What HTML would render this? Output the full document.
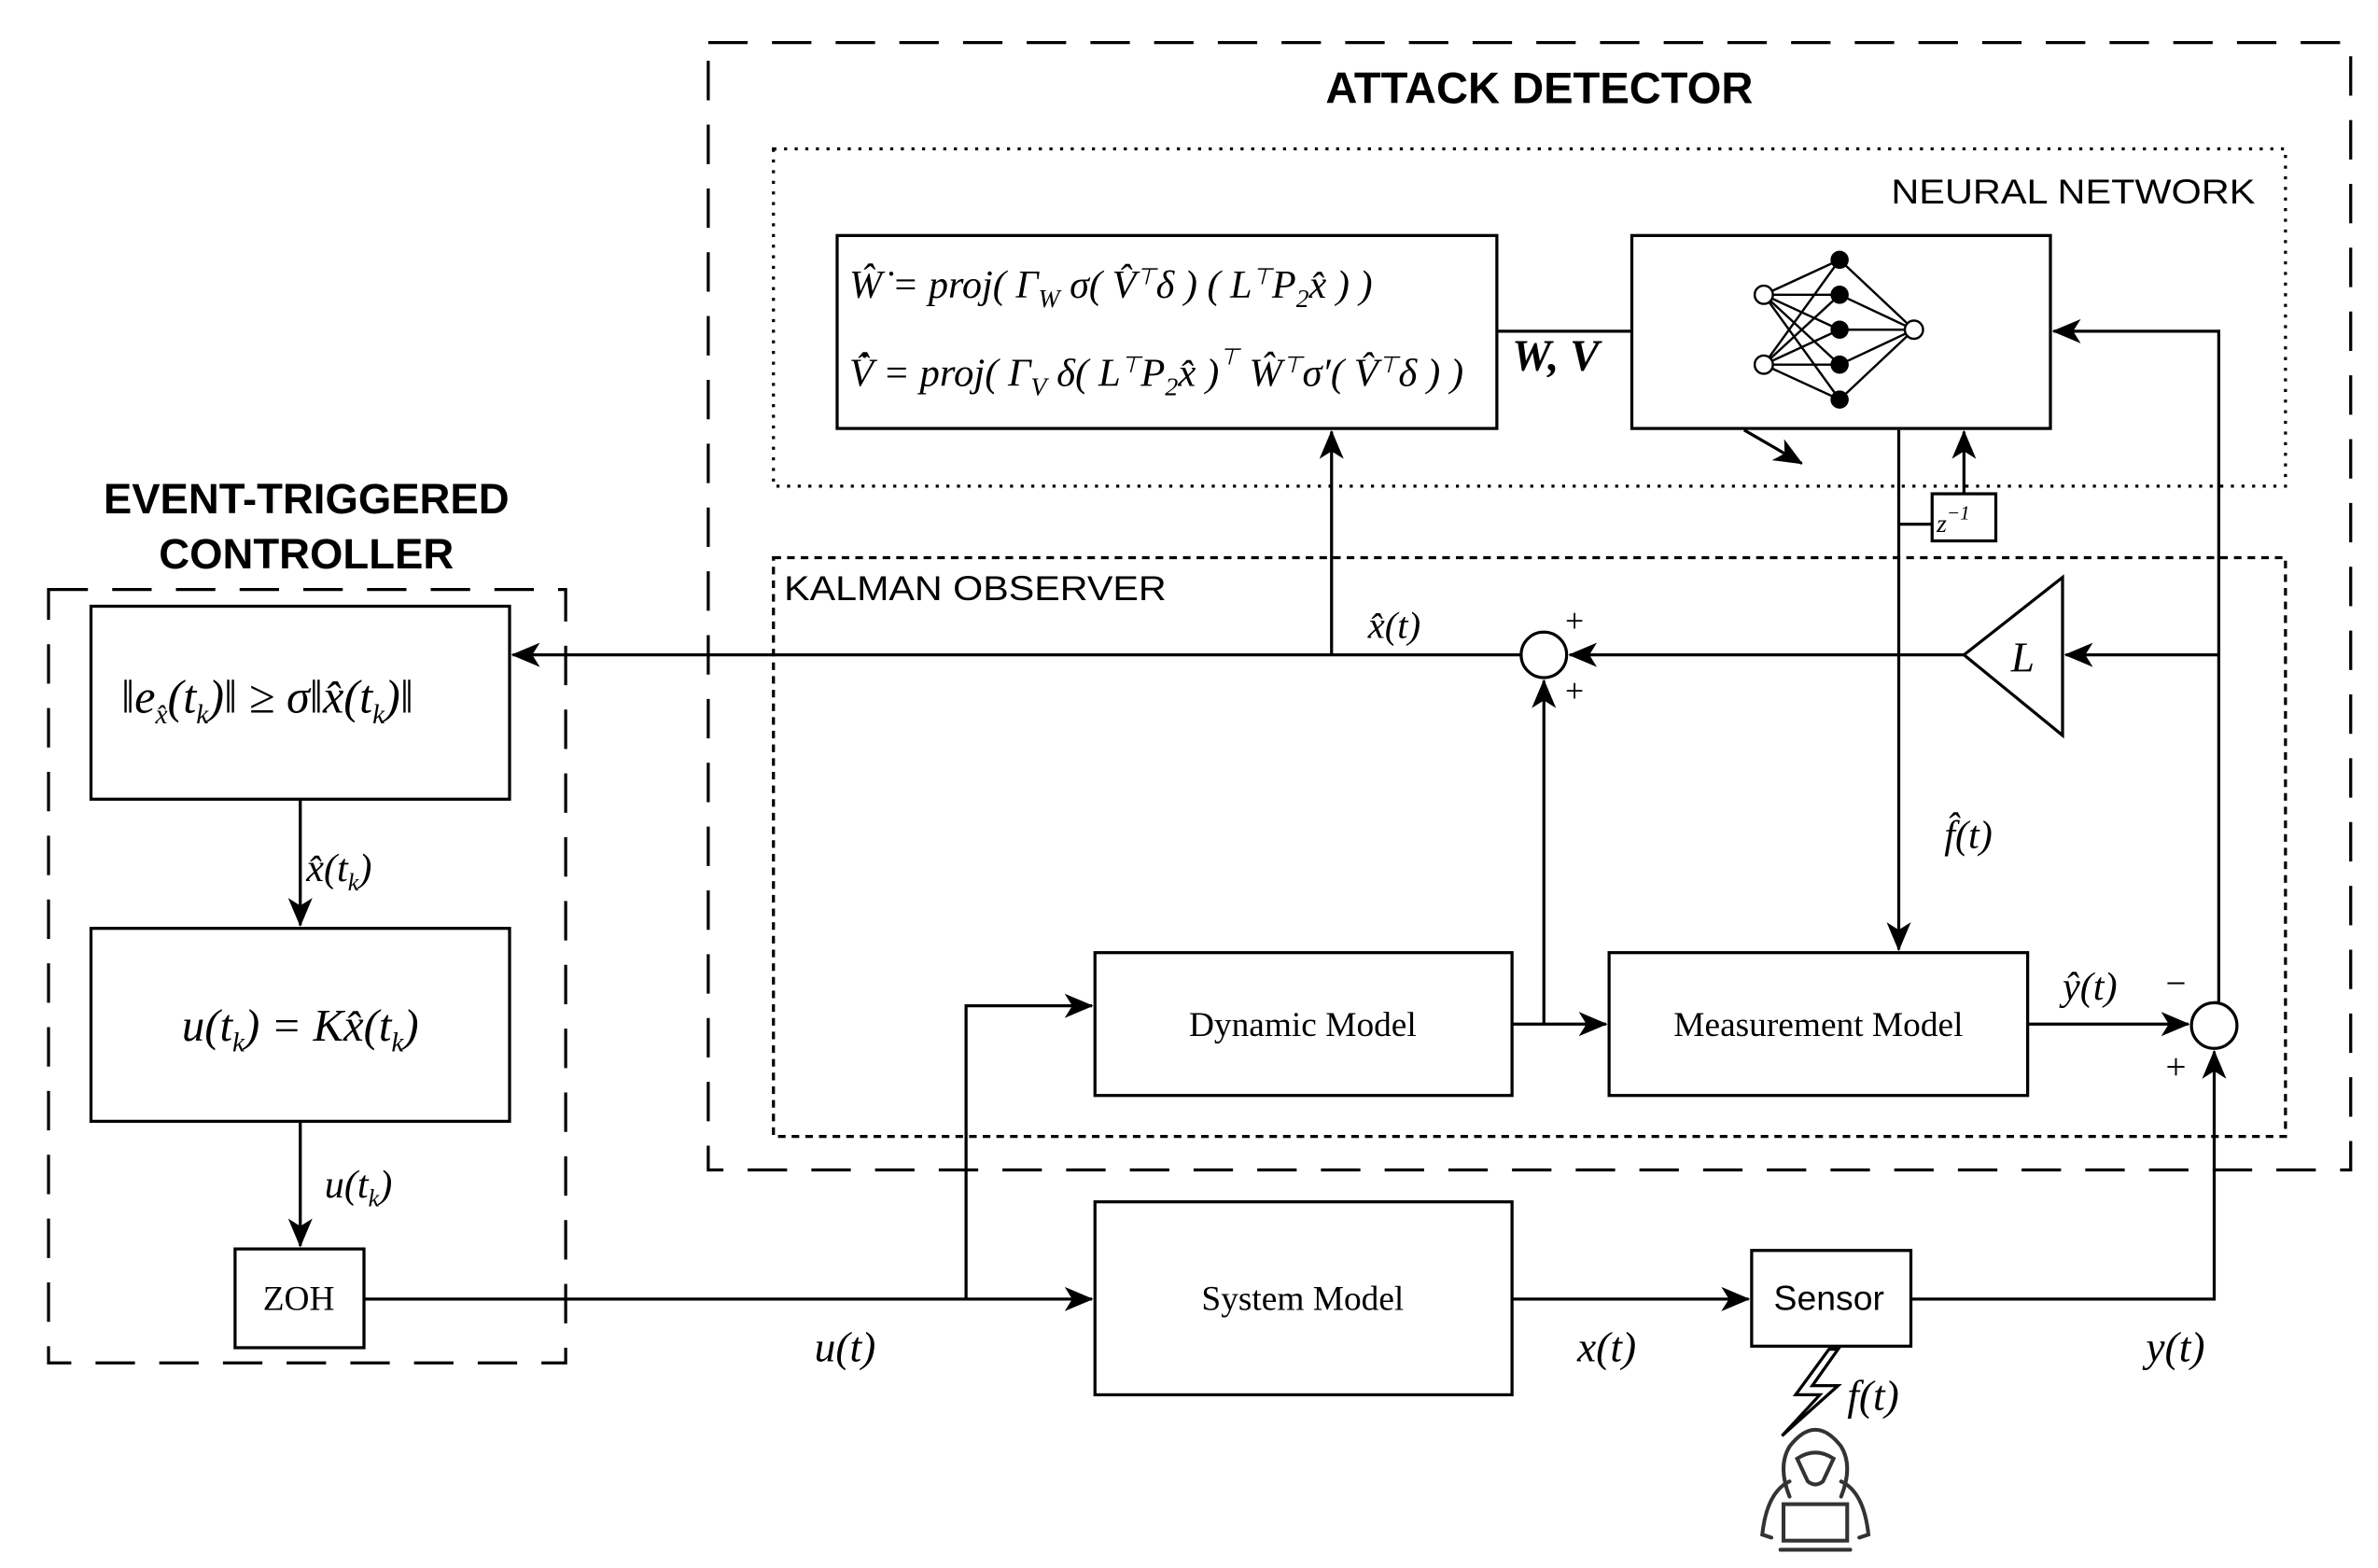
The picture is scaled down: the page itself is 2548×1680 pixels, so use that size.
<!DOCTYPE html>
<html><head><meta charset="utf-8"><style>
html,body{margin:0;padding:0;background:#fff;}
svg{display:block}
.s{font-family:"Liberation Sans",sans-serif}
.m{font-family:"Liberation Serif",serif;font-style:italic}
.r{font-family:"Liberation Serif",serif}
</style></head><body>
<svg width="2548" height="1680" viewBox="0 0 1568 1032" preserveAspectRatio="none" xmlns="http://www.w3.org/2000/svg">
<defs>
<marker id="b" markerWidth="20" markerHeight="20" refX="18" refY="8" orient="auto" markerUnits="userSpaceOnUse">
<path d="M0,0 L19,8 L0,16 L5,8 Z" fill="#000"/></marker>
</defs>
<g fill="none" stroke="#000" stroke-width="2">
<rect x="467" y="28" width="1083" height="742" stroke-dasharray="26,16"/>
<rect x="510" y="98" width="997" height="222" stroke-dasharray="2,5"/>
<rect x="510" y="367" width="997" height="381" stroke-dasharray="5,4"/>
<rect x="32" y="388" width="341" height="509" stroke-dasharray="26,16"/>
<rect x="552" y="155" width="435" height="127"/>
<rect x="1076" y="155" width="276" height="127"/>
<rect x="1274" y="325" width="42" height="31"/>
<rect x="60" y="399" width="276" height="127"/>
<rect x="60" y="611" width="276" height="127"/>
<rect x="155" y="822" width="85" height="65"/>
<rect x="722" y="627" width="275" height="94"/>
<rect x="1061" y="627" width="276" height="94"/>
<rect x="722" y="791" width="275" height="127"/>
<rect x="1155" y="823" width="105" height="63"/>
<circle cx="1018" cy="431" r="15"/>
<circle cx="1460" cy="675" r="15"/>
<path d="M1295,431 L1360,380 L1360,484 Z"/>
<line x1="987" y1="218" x2="1076" y2="218"/>
<line x1="1150" y1="283" x2="1188" y2="305" marker-end="url(#b)"/>
<line x1="1252" y1="283" x2="1252" y2="625" marker-end="url(#b)"/>
<line x1="1252" y1="345" x2="1274" y2="345"/>
<line x1="1295" y1="325" x2="1295" y2="284" marker-end="url(#b)"/>
<polyline points="1460,660 1463,660 1463,218 1354,218" marker-end="url(#b)"/>
<line x1="1463" y1="431" x2="1362" y2="431" marker-end="url(#b)"/>
<line x1="1295" y1="431" x2="1035" y2="431" marker-end="url(#b)"/>
<line x1="1003" y1="431" x2="338" y2="431" marker-end="url(#b)"/>
<line x1="878" y1="431" x2="878" y2="284" marker-end="url(#b)"/>
<line x1="997" y1="674" x2="1059" y2="674" marker-end="url(#b)"/>
<line x1="1018" y1="674" x2="1018" y2="448" marker-end="url(#b)"/>
<line x1="1337" y1="674" x2="1443" y2="674" marker-end="url(#b)"/>
<line x1="198" y1="526" x2="198" y2="609" marker-end="url(#b)"/>
<line x1="198" y1="738" x2="198" y2="820" marker-end="url(#b)"/>
<line x1="240" y1="855" x2="720" y2="855" marker-end="url(#b)"/>
<polyline points="637,855 637,662 720,662" marker-end="url(#b)"/>
<line x1="997" y1="855" x2="1153" y2="855" marker-end="url(#b)"/>
<polyline points="1260,855 1460,855 1460,692" marker-end="url(#b)"/>
<path d="M1212,888 L1195,912 L1212,912 L1175,945 L1200,918 L1184,918 L1206,888 Z" stroke-width="2"/>
<g stroke="#333" stroke-width="2.5" stroke-linecap="round">
<path d="M1180,985 Q1172,965 1180,952 Q1197,930 1214,952 Q1222,965 1214,985"/>
<path d="M1185,960 Q1197,952 1209,960 L1202,975 Q1197,979 1192,975 Z"/>
<path d="M1180,975 Q1165,982 1162,1010 L1168,1012"/>
<path d="M1214,975 Q1229,982 1232,1010 L1226,1012"/>
<rect x="1176" y="990" width="42" height="24"/>
<line x1="1174" y1="1020" x2="1220" y2="1020"/>
</g>
<g stroke-width="1.5">
<path d="M1163,194 L1213,171 M1163,194 L1213,194 M1163,194 L1213,217 M1163,194 L1213,240 M1163,194 L1213,263 M1163,240 L1213,171 M1163,240 L1213,194 M1163,240 L1213,217 M1163,240 L1213,240 M1163,240 L1213,263 M1213,171 L1262,217 M1213,194 L1262,217 M1213,217 L1262,217 M1213,240 L1262,217 M1213,263 L1262,217"/>
</g>
</g>
<g fill="#000">
<circle cx="1213" cy="171" r="6"/><circle cx="1213" cy="194" r="6"/><circle cx="1213" cy="217" r="6"/><circle cx="1213" cy="240" r="6"/><circle cx="1213" cy="263" r="6"/>
</g>
<g fill="#fff" stroke="#000" stroke-width="1.5">
<circle cx="1163" cy="194" r="6"/><circle cx="1163" cy="240" r="6"/><circle cx="1262" cy="217" r="6"/>
</g>
<g fill="#000">
<text x="1015" y="68" class="s" font-size="29" font-weight="bold" text-anchor="middle">ATTACK DETECTOR</text>
<text x="1487" y="134" class="s" font-size="23" text-anchor="end" textLength="240" lengthAdjust="spacingAndGlyphs">NEURAL NETWORK</text>
<text x="517" y="395" class="s" font-size="23" textLength="252" lengthAdjust="spacingAndGlyphs">KALMAN OBSERVER</text>
<text x="202" y="338" class="s" font-size="28" font-weight="bold" text-anchor="middle">EVENT-TRIGGERED</text>
<text x="202" y="374" class="s" font-size="28" font-weight="bold" text-anchor="middle">CONTROLLER</text>
<text x="1206" y="862" class="s" font-size="23" text-anchor="middle">Sensor</text>
<text x="859" y="682" class="r" font-size="23" text-anchor="middle">Dynamic Model</text>
<text x="1199" y="682" class="r" font-size="23" text-anchor="middle">Measurement Model</text>
<text x="859" y="862" class="r" font-size="23" text-anchor="middle">System Model</text>
<text x="197" y="862" class="r" font-size="23" text-anchor="middle">ZOH</text>
<text x="560" y="196" class="m" font-size="26" textLength="345" lengthAdjust="spacingAndGlyphs">Ŵ̇ = proj( Γ<tspan font-size="17" dy="6">W</tspan><tspan dy="-6"> σ( V̂</tspan><tspan font-size="15" dy="-9">⊤</tspan><tspan dy="9">δ ) ( L</tspan><tspan font-size="15" dy="-9">⊤</tspan><tspan dy="9">P</tspan><tspan font-size="17" dy="6">2</tspan><tspan dy="-6">x̂ ) )</tspan></text>
<text x="560" y="254" class="m" font-size="26" textLength="405" lengthAdjust="spacingAndGlyphs">V̂̇ = proj( Γ<tspan font-size="17" dy="6">V</tspan><tspan dy="-6"> δ( L</tspan><tspan font-size="15" dy="-9">⊤</tspan><tspan dy="9">P</tspan><tspan font-size="17" dy="6">2</tspan><tspan dy="-6">x̂ )</tspan><tspan font-size="15" dy="-14">⊤</tspan><tspan dy="14"> Ŵ</tspan><tspan font-size="15" dy="-9">⊤</tspan><tspan dy="9">σ′( V̂</tspan><tspan font-size="15" dy="-9">⊤</tspan><tspan dy="9">δ ) )</tspan></text>
<text x="997" y="244" class="m" font-size="29" font-weight="bold">W, V</text>
<text x="1277" y="350" class="m" font-size="17">z<tspan font-size="13" dy="-8">−1</tspan></text>
<text x="1326" y="442" class="m" font-size="28">L</text>
<text x="902" y="420" class="m" font-size="25">x̂(t)</text>
<text x="1032" y="416" class="r" font-size="22">+</text>
<text x="1032" y="462" class="r" font-size="22">+</text>
<text x="1282" y="558" class="m" font-size="26">f̂(t)</text>
<text x="1360" y="658" class="m" font-size="26">ŷ(t)</text>
<text x="1428" y="655" class="r" font-size="24">−</text>
<text x="1428" y="710" class="r" font-size="24">+</text>
<text x="80" y="469" class="m" font-size="31">‖e<tspan font-size="18" dy="7">x̂</tspan><tspan dy="-7">(t</tspan><tspan font-size="18" dy="7">k</tspan><tspan dy="-7">)‖ ≥ σ‖x̂(t</tspan><tspan font-size="18" dy="7">k</tspan><tspan dy="-7">)‖</tspan></text>
<text x="198" y="685" class="m" font-size="30" text-anchor="middle">u(t<tspan font-size="18" dy="7">k</tspan><tspan dy="-7">) = Kx̂(t</tspan><tspan font-size="18" dy="7">k</tspan><tspan dy="-7">)</tspan></text>
<text x="202" y="580" class="m" font-size="26">x̂(t<tspan font-size="16" dy="6">k</tspan><tspan dy="-6">)</tspan></text>
<text x="214" y="788" class="m" font-size="26">u(t<tspan font-size="16" dy="6">k</tspan><tspan dy="-6">)</tspan></text>
<text x="537" y="896" class="m" font-size="28">u(t)</text>
<text x="1040" y="896" class="m" font-size="28">x(t)</text>
<text x="1415" y="896" class="m" font-size="28">y(t)</text>
<text x="1218" y="928" class="m" font-size="28">f(t)</text>
</g>
</svg>
</body></html>
